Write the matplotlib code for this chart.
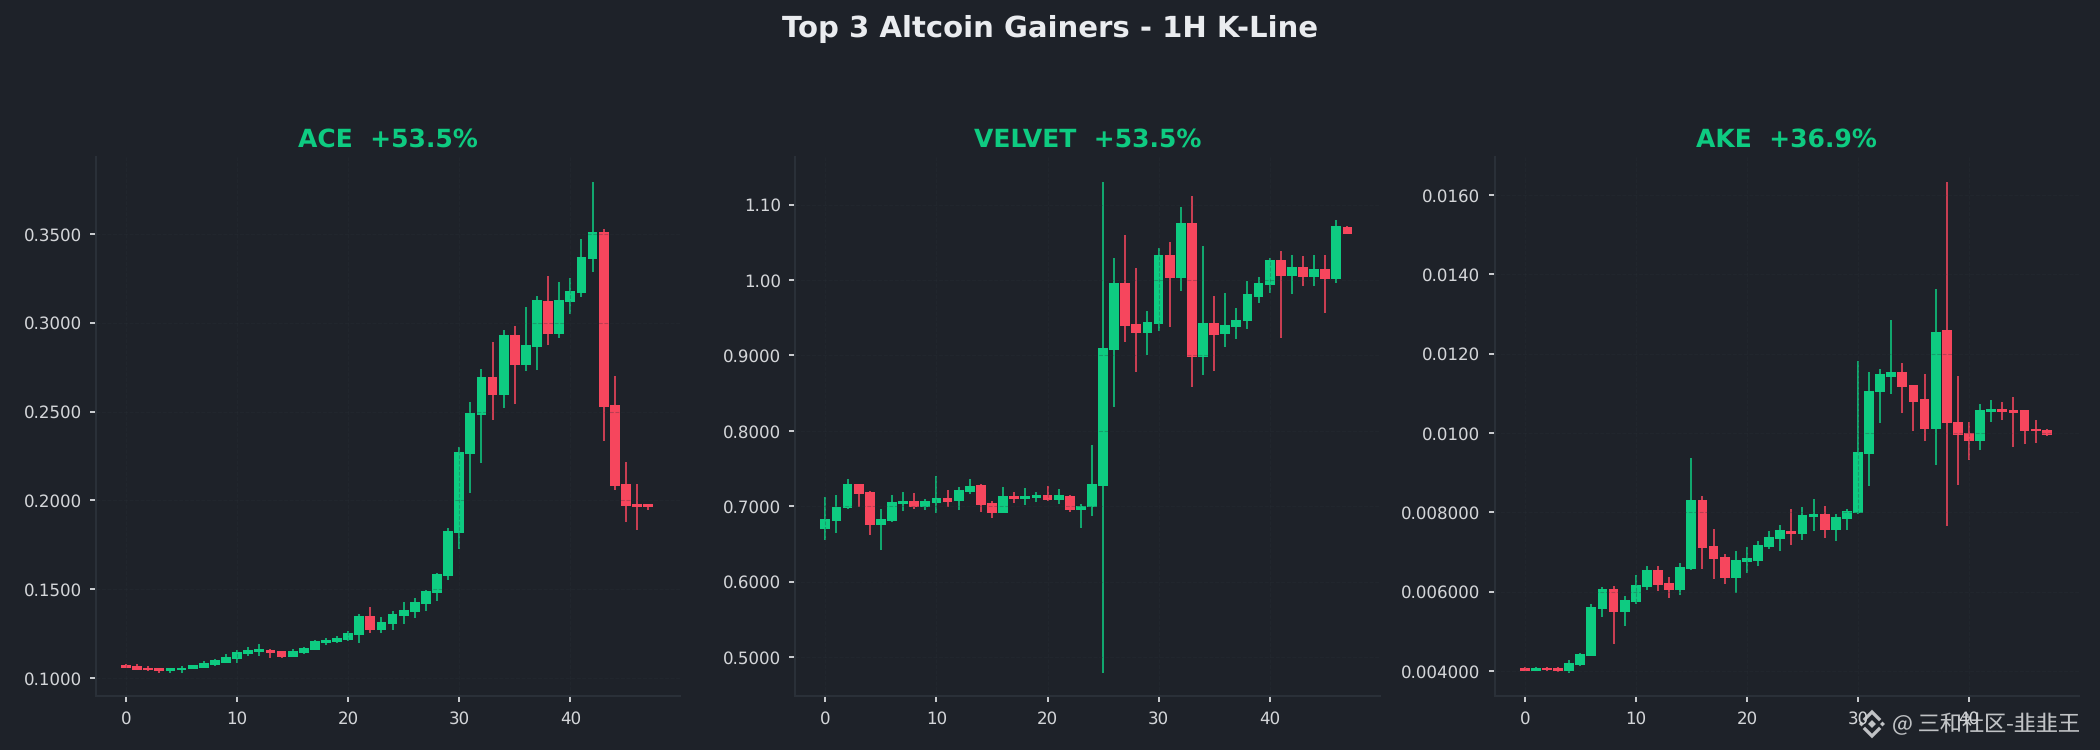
import matplotlib
matplotlib.use('Agg')
import matplotlib.pyplot as plt
from matplotlib.lines import Line2D
from matplotlib.patches import Polygon
from matplotlib.ticker import FuncFormatter
from matplotlib.transforms import IdentityTransform
import numpy as np

plt.rcParams['text.hinting'] = 'none'

# 1H candles
ace_open = [.1072, .1066, .1060, .1056, .1038, .1044, .1050, .1060, .1072, .1088, .1107, .1135,
            .1145, .1157, .1151, .1117, .1141, .1157, .1197, .1201, .1213, .1241, .1348, .1270,
            .1304, .1348, .1370, .1416, .1479, .1573, .1817, .2261, .2480, .2694, .2593, .2931,
            .2762, .2862, .3122, .2937, .3116, .3168, .3359, .3510, .2537, .2092, .1980, .1980]
ace_close = [.1056, .1044, .1044, .1038, .1056, .1060, .1072, .1084, .1101, .1117, .1145, .1157,
             .1163, .1141, .1117, .1151, .1169, .1207, .1213, .1225, .1253, .1348, .1270, .1314,
             .1360, .1382, .1426, .1489, .1585, .1827, .2271, .2492, .2694, .2593, .2931, .2762,
             .2875, .3128, .2937, .3128, .3178, .3369, .3510, .2525, .2080, .1967, .1961, .1961]
ace_high = [.1078, .1078, .1066, .1056, .1056, .1066, .1072, .1095, .1107, .1135, .1157, .1173,
            .1191, .1163, .1151, .1163, .1173, .1213, .1229, .1235, .1263, .1360, .1398, .1342,
            .1376, .1426, .1449, .1495, .1591, .1845, .2299, .2553, .2740, .2891, .2959, .2981,
            .3088, .3150, .3263, .3229, .3253, .3472, .3792, .3528, .2700, .2215, .2092, .1980]
ace_low = [.1056, .1044, .1038, .1028, .1032, .1032, .1050, .1056, .1066, .1088, .1084, .1123,
           .1123, .1113, .1113, .1117, .1135, .1157, .1185, .1197, .1207, .1197, .1253, .1257,
           .1270, .1304, .1338, .1376, .1432, .1551, .1726, .2042, .2211, .2452, .2521, .2543,
           .2728, .2734, .2875, .2915, .3050, .3144, .3285, .2334, .2058, .1877, .1833, .1945]

velvet_open = [.6697, .6801, .6976, .7294, .7185, .6749, .6801, .7028, .7066, .6986, .7043, .7109,
               .7066, .7185, .7280, .7043, .6910, .7133, .7095, .7109, .7147, .7081, .7133, .6948,
               .6986, .7265, .9071, .9962, .9417, .9299, .9417, 1.0332, 1.0028, 1.0758, .8976, .9431,
               .9284, .9374, .9455, .9772, .9934, 1.0265, 1.0052, 1.0171, 1.0038, 1.0147, 1.0014, 1.0701]
velvet_close = [.6829, .6986, .7294, .7161, .6749, .6829, .7052, .7066, .6986, .7066, .7109, .7052,
                .7213, .7265, .7014, .6910, .7133, .7095, .7133, .7147, .7081, .7147, .6948, .7000,
                .7294, .9099, .9962, .9389, .9299, .9441, 1.0332, 1.0028, 1.0758, .8976, .9431, .9270,
                .9403, .9469, .9815, .9962, 1.0265, 1.0052, 1.0171, 1.0038, 1.0147, 1.0014, 1.0716, 1.0611]
velvet_high = [.7118, .7147, .7360, .7294, .7199, .6962, .7147, .7185, .7175, .7095, .7398, .7213,
               .7251, .7360, .7294, .7066, .7251, .7185, .7237, .7185, .7265, .7227, .7147, .7028,
               .7810, 1.1298, 1.0294, 1.0597, 1.0161, .9588, 1.0426, 1.0502, 1.0967, 1.1114, 1.0450, .9787,
               .9829, .9630, .9986, 1.0038, 1.0294, 1.0384, 1.0332, 1.0318, 1.0332, 1.0332, 1.0796, 1.0716]
velvet_low = [.6550, .6645, .6962, .6986, .6616, .6417, .6787, .6934, .6962, .6948, .6910, .6986,
              .6948, .7161, .6919, .6844, .6910, .7043, .7014, .7052, .7066, .7028, .6919, .6711,
              .6867, .4787, .8313, .9175, .8777, .9005, .9322, .9374, .9853, .8578, .8739, .8791,
              .9109, .9218, .9351, .9697, .9829, .9232, .9815, .9919, .9919, .9564, .9962, 1.0611]

ake_open = [.004072, .003991, .004072, .004072, .003991, .004144, .004369, .005559, .006063, .005477,
            .005730, .006108, .006541, .006216, .006036, .006568, .008306, .007144, .006865, .006342,
            .006739, .006766, .007117, .007324, .007536, .007459, .007894, .007961, .007565, .007836,
            .007990, .009478, .011024, .011420, .011527, .011217, .010870, .010106, .012589, .010290,
            .010010, .009807, .010541, .010618, .010589, .010570, .010106, .010087]
ake_close = [.003991, .004072, .004018, .003991, .004198, .004423, .005604, .006063, .005477, .005784,
             .006162, .006541, .006162, .006036, .006613, .008306, .007099, .006820, .006342, .006793,
             .006847, .007171, .007369, .007550, .007459, .007942, .007961, .007565, .007894, .008039,
             .009527, .011072, .011478, .011527, .011169, .010792, .010106, .012560, .010242, .009961,
             .009807, .010589, .010618, .010541, .010512, .010058, .010039, .009961]
ake_high = [.004090, .004090, .004090, .004090, .004270, .004450, .005685, .006108, .006135, .005883,
            .006414, .006640, .006640, .006360, .006721, .009369, .008405, .007577, .006946, .007018,
            .007117, .007270, .007523, .007676, .008087, .008145, .008348, .008164, .007952, .008087,
            .011826, .011546, .011623, .012841, .011778, .011217, .011498, .013643, .016319, .011449,
            .010290, .010744, .010841, .010792, .010918, .010589, .010338, .010106]
ake_low = [.003991, .003991, .003991, .003964, .003946, .004117, .004369, .005351, .004676, .005126,
           .005685, .006036, .006009, .005838, .005910, .006541, .006568, .006315, .006189, .005964,
           .006468, .006640, .007072, .007018, .007179, .007304, .007536, .007362, .007285, .007565,
           .007952, .008676, .010261, .010995, .010512, .010058, .009787, .009198, .007662, .008696,
           .009324, .009585, .010290, .010338, .009652, .009729, .009758, .009913]

titles = ['ACE  +53.5%', 'VELVET  +53.5%', 'AKE  +36.9%']
opens = [ace_open, velvet_open, ake_open]
closes = [ace_close, velvet_close, ake_close]
highs = [ace_high, velvet_high, ake_high]
lows = [ace_low, velvet_low, ake_low]
ylims = [(.08998, .3933), (.4484, 1.1632), (.00337, .01696)]

BG = '#1e2229'
GREEN = '#0ecb81'
RED = '#f6465d'
LINE = '#2b3139'
TICK = '#d4d6d9'


def price_fmt(v, pos):
    # more decimals for cheaper coins, same as the exchange tickers
    if v >= 1:
        return f'{v:.2f}'
    if v >= 0.00999:
        return f'{v:.4f}'
    return f'{v:.6f}'


def draw_candles(ax, o, h, l, c):
    o, h, l, c = map(np.array, (o, h, l, c))
    x = np.arange(len(o))
    colors = [GREEN if cc >= oo else RED for oo, cc in zip(o, c)]
    # wicks first so that the bodies sit on top of them
    ax.vlines(x, l, h, colors=colors, linewidth=0.95, alpha=0.8, zorder=1)
    ax.bar(x, np.abs(c - o), bottom=np.minimum(o, c), width=0.88, color=colors, linewidth=0, zorder=1)


fig, axes = plt.subplots(1, 3, figsize=(14, 5), dpi=150, facecolor=BG)
fig.subplots_adjust(left=96 / 2100, right=2079 / 2100, bottom=54 / 750, top=593 / 750, wspace=115 / 584)

for ax, title, o, h, l, c, ylim in zip(axes, titles, opens, highs, lows, closes, ylims):
    ax.set_facecolor(BG)
    draw_candles(ax, o, h, l, c)
    ax.set_xlim(-2.7, 49.9)
    ax.set_ylim(*ylim)
    ax.set_title(title, color=GREEN, fontsize=12, fontweight='bold', pad=5)
    ax.yaxis.set_major_formatter(FuncFormatter(price_fmt))
    ax.tick_params(colors=TICK, labelsize=8, length=2.9, width=0.9, pad=4)
    ax.grid(True, color=LINE, alpha=0.3, linewidth=0.5, linestyle='--')
    ax.spines['top'].set_visible(False)
    ax.spines['right'].set_visible(False)
    ax.spines['left'].set_color(LINE)
    ax.spines['bottom'].set_color(LINE)
    ax.spines['left'].set_linewidth(0.95)
    ax.spines['bottom'].set_linewidth(0.95)

fig.suptitle('Top 3 Altcoin Gainers - 1H K-Line', color='#eaecef', fontsize=14, fontweight='bold', y=1 - 29 / 750, va='center')

# watermark, pixel positions on the finished image
wm = '#cfd1d3'
fig.text(1892 / 2100, 25 / 750, '@ 三和社区-韭韭王', color=wm, fontsize=10.6, va='center', ha='left',
         family=['Noto Sans CJK SC', 'DejaVu Sans'], alpha=0.92)
cx, cy = 1872, 26
px = IdentityTransform()
for dx, dy, r in [(0, 0, 4), (-10.5, 0, 2.5), (10.5, 0, 2.5)]:
    fig.add_artist(Polygon([(cx + dx - r, cy + dy), (cx + dx, cy + dy + r), (cx + dx + r, cy + dy), (cx + dx, cy + dy - r)],
                           closed=True, facecolor=wm, edgecolor='none', transform=px, alpha=0.92))
for sign in (1, -1):
    fig.add_artist(Line2D([cx - 7, cx, cx + 7], [cy + sign * 5, cy + sign * 12, cy + sign * 5], color=wm, linewidth=1.6,
                          transform=px, alpha=0.92, solid_joinstyle='miter'))

fig.savefig('out.png', dpi=150, facecolor=BG)
